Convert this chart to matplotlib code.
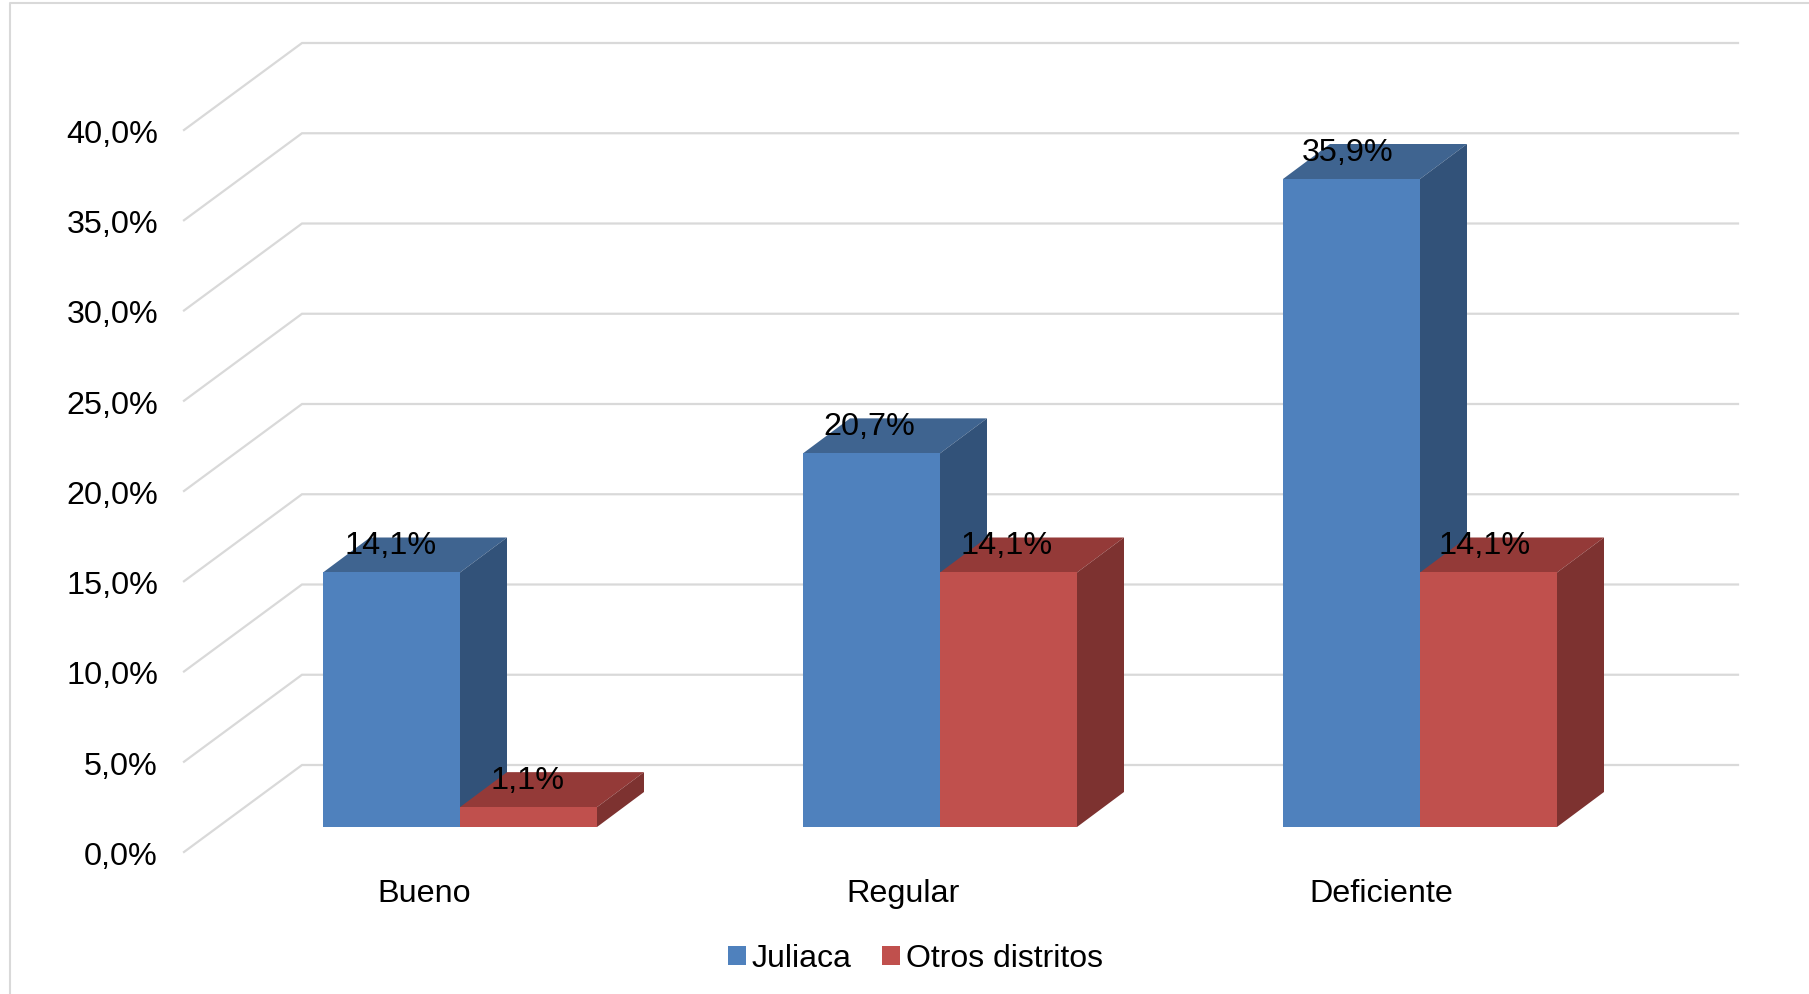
import matplotlib.pyplot as plt
from matplotlib.patches import Patch, Polygon

plt.rcParams['font.family'] = ['Liberation Sans', 'DejaVu Sans']

categories = ['Bueno', 'Regular', 'Deficiente']
series_names = ['Juliaca', 'Otros distritos']
juliaca = [14.1, 20.7, 35.9]
otros = [1.1, 14.1, 14.1]
y_ticks = [0, 5, 10, 15, 20, 25, 30, 35, 40]

W, H = 1809, 995
PX_X = 480.0   # pixels per category
PX_Y = 18.05   # pixels per percentage point
ORIGIN_X, ORIGIN_Y = 460.0, 828.0

FRONT = {'Juliaca': '#4F81BD', 'Otros distritos': '#C0504D'}
TOP = {'Juliaca': '#3F6490', 'Otros distritos': '#943A38'}
SIDE = {'Juliaca': '#325279', 'Otros distritos': '#7D3230'}
GRID = '#D9D9D9'
FS = 23.3

BAR_W = 137 / PX_X
DEPTH_X, DEPTH_Y = 47 / PX_X, 35 / PX_Y

# walls of the fake 3d box, relative to the plane of the bars
WALL_FRONT_X, WALL_FRONT_DY = (184 - ORIGIN_X) / PX_X, (ORIGIN_Y - 853) / PX_Y
WALL_BACK_X, WALL_BACK_DY = (302 - ORIGIN_X) / PX_X, (ORIGIN_Y - 766) / PX_Y
WALL_RIGHT_X = (1738 - ORIGIN_X) / PX_X


def bar3d(ax, left, value, name, z, label_dx):
    right = left + BAR_W
    ax.bar(left, value, BAR_W, align='edge', color=FRONT[name], zorder=z + 0.2)
    ax.add_patch(Polygon([(left, value), (right, value),
                          (right + DEPTH_X, value + DEPTH_Y), (left + DEPTH_X, value + DEPTH_Y)],
                         closed=True, facecolor=TOP[name], edgecolor='none', zorder=z))
    ax.add_patch(Polygon([(right, 0), (right, value),
                          (right + DEPTH_X, value + DEPTH_Y), (right + DEPTH_X, DEPTH_Y)],
                         closed=True, facecolor=SIDE[name], edgecolor='none', zorder=z + 0.1))
    ax.annotate(f'{value:.1f}%'.replace('.', ','), (left + BAR_W / 2, value),
                xytext=(label_dx, 19.8), textcoords='offset points', ha='center', va='center',
                fontsize=FS, color='black', zorder=10)


fig = plt.figure(figsize=(W / 100, H / 100), dpi=100, facecolor='white')
ax = fig.add_axes([0, 0, 1, 1])
ax.set_xlim(-ORIGIN_X / PX_X, (W - ORIGIN_X) / PX_X)
ax.set_ylim((ORIGIN_Y - H) / PX_Y, ORIGIN_Y / PX_Y)
ax.axis('off')

# outer chart border, left and top only
fig.add_artist(plt.Line2D([10 / W, 10 / W, 1], [0, 1 - 4 / H, 1 - 4 / H],
                          color=GRID, lw=1.5, transform=fig.transFigure))

# gridlines run along the left wall and then across the back wall
for v in y_ticks:
    ax.plot([WALL_FRONT_X, WALL_BACK_X, WALL_RIGHT_X],
            [v + WALL_FRONT_DY, v + WALL_BACK_DY, v + WALL_BACK_DY],
            color=GRID, lw=1.6, zorder=1, solid_joinstyle='miter')
    ax.text((158 - ORIGIN_X) / PX_X, v + WALL_FRONT_DY - 4 / PX_Y, f'{v:.1f}%'.replace('.', ','),
            ha='right', va='center', fontsize=FS, color='black')

# labels drift slightly left of the bars from group to group
for i, cat in enumerate(categories):
    label_dx = -0.4 - 1.3 * i
    bar3d(ax, i - BAR_W, juliaca[i], 'Juliaca', 2 + i * 2, label_dx)
    bar3d(ax, i, otros[i], 'Otros distritos', 3 + i * 2, label_dx)
    ax.text(i - (36 + 1.2 * i) / PX_X, -66.5 / PX_Y, cat,
            ha='center', va='center', fontsize=FS, color='black')

handles = [Patch(facecolor=FRONT[n], label=n) for n in series_names]
ax.legend(handles=handles, loc='center', bbox_to_anchor=(915.5 / W, 1 - 959.5 / H),
          bbox_transform=fig.transFigure, ncol=2, frameon=False, fontsize=23,
          handlelength=0.55, handleheight=0.55, handletextpad=0.2, columnspacing=0.95,
          borderpad=0, borderaxespad=0, labelcolor='black')

fig.savefig('out.png', dpi=100)
plt.close(fig)
